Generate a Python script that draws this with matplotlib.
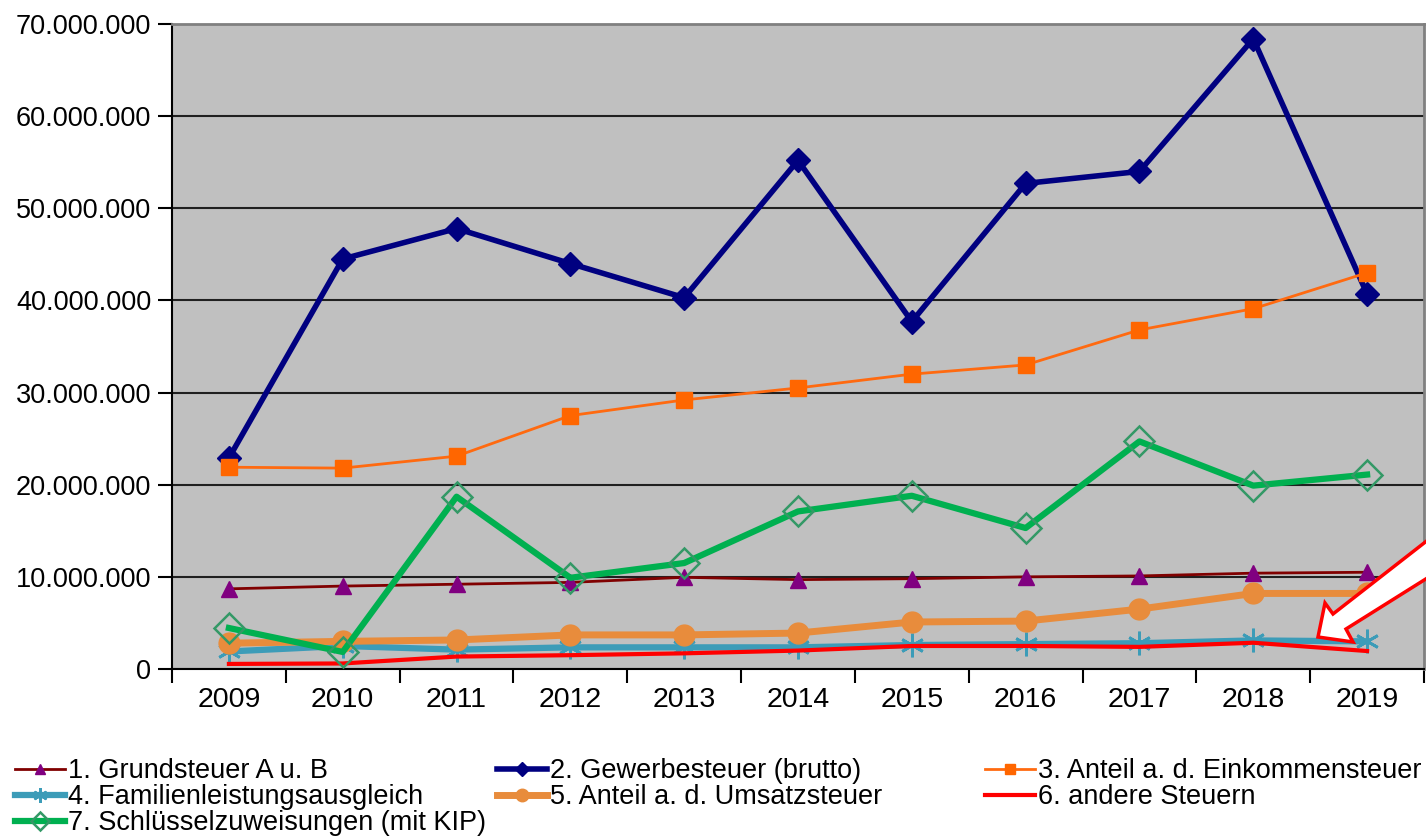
import matplotlib
matplotlib.use('Agg')
import matplotlib.pyplot as plt
from matplotlib.ticker import FuncFormatter, FixedLocator
from matplotlib.patches import Polygon

plt.rcParams['font.family'] = ['Liberation Sans', 'DejaVu Sans']

years = ['2009', '2010', '2011', '2012', '2013', '2014', '2015', '2016', '2017', '2018', '2019']

# Steuereinnahmen in Mio. EUR
grundsteuer = [8.7, 9.0, 9.2, 9.4, 9.95, 9.7, 9.8, 10.0, 10.1, 10.4, 10.5]
gewerbesteuer = [22.9, 44.5, 47.8, 44.0, 40.3, 55.2, 37.7, 52.7, 54.0, 68.4, 40.7]
einkommensteuer = [21.9, 21.8, 23.1, 27.5, 29.2, 30.5, 32.0, 33.0, 36.8, 39.1, 43.0]
familienausgleich = [1.9, 2.5, 2.1, 2.35, 2.35, 2.35, 2.6, 2.7, 2.8, 3.1, 3.0]
umsatzsteuer = [2.8, 3.0, 3.15, 3.7, 3.7, 3.9, 5.1, 5.2, 6.5, 8.2, 8.2]
andere_steuern = [0.55, 0.6, 1.35, 1.5, 1.7, 2.0, 2.5, 2.5, 2.4, 2.85, 1.95]
schluesselzuweisungen = [4.45, 1.85, 18.7, 9.9, 11.5, 17.1, 18.8, 15.3, 24.7, 19.9, 21.1]

labels = ['1. Grundsteuer A u. B', '2. Gewerbesteuer (brutto)', '3. Anteil a. d. Einkommensteuer',
          '4. Familienleistungsausgleich', '5. Anteil a. d. Umsatzsteuer', '6. andere Steuern',
          '7. Schlüsselzuweisungen (mit KIP)']

W, H = 1426, 838
fig = plt.figure(figsize=(W / 100, H / 100), dpi=100)
ax = fig.add_axes([172 / W, 1 - 669 / H, 1252 / W, 645 / H])
ax.set_facecolor('#C0C0C0')

x = range(len(years))
mio = lambda v: [i * 1e6 for i in v]

h = [None] * 7
h[0], = ax.plot(x, mio(grundsteuer), color='#800000', lw=2, marker='^', ms=11,
                mfc='#800080', mec='#800080', zorder=3)
h[1], = ax.plot(x, mio(gewerbesteuer), color='#000080', lw=4, marker='D', ms=12,
                mfc='#000080', mec='#000080', zorder=3)
h[2], = ax.plot(x, mio(einkommensteuer), color='#FF6A10', lw=2, marker='s', ms=11,
                mfc='#FF6600', mec='#FF6600', zorder=3)
h[3], = ax.plot(x, mio(familienausgleich), color='#3C9CB8', lw=4.5, marker=(6, 2, 0), ms=17,
                mew=2, mec='#3C9CB8', zorder=3)
h[4], = ax.plot(x, mio(umsatzsteuer), color='#E88C3C', lw=5, marker='o', ms=15,
                mfc='#E88C3C', mec='#E88C3C', zorder=3)
h[5], = ax.plot(x, mio(andere_steuern), color='#FF0000', lw=3, zorder=3)
h[6], = ax.plot(x, mio(schluesselzuweisungen), color='#00B050', lw=4.5, marker='D', ms=15,
                mfc='none', mec='#339966', mew=1.8, zorder=3)

ax.set_xlim(-0.5, len(years) - 0.5)
ax.set_ylim(0, 70e6)
ax.set_yticks([i * 10e6 for i in range(8)])
ax.yaxis.set_major_formatter(FuncFormatter(lambda v, p: f'{int(v):,}'.replace(',', '.')))
ax.grid(axis='y', color='#202020', lw=1.5)
ax.set_axisbelow(True)

ax.set_xticks(list(x))
ax.set_xticklabels(years)
ax.xaxis.set_minor_locator(FixedLocator([i - 0.5 for i in range(len(years) + 1)]))
ax.tick_params(axis='x', which='major', length=0, pad=13, labelsize=20.5)
ax.tick_params(axis='x', which='minor', length=10, width=1.5, direction='out')
ax.tick_params(axis='y', length=10, width=1.5, direction='out', labelsize=19.5, pad=5)

for s in ['left', 'bottom']:
    ax.spines[s].set_color('#000000')
    ax.spines[s].set_linewidth(1.5)
for s in ['top', 'right']:
    ax.spines[s].set_color('#808080')
    ax.spines[s].set_linewidth(2)

# Hinweispfeil rechts unten
pts = [(1318, 637), (1325, 603), (1333, 614), (1460, 515),
       (1480, 545), (1346, 629), (1353, 642)]
arrow = Polygon([(px / W, 1 - py / H) for px, py in pts], closed=True,
                transform=fig.transFigure, facecolor='white', edgecolor='#FF0000',
                lw=2.5, zorder=10)
fig.patches.append(arrow)

# Legende in drei Spalten
cols = [([0, 3, 6], 15), ([1, 4], 497), ([2, 5], 985)]
for idx, px in cols:
    fig.legend([h[i] for i in idx], [labels[i] for i in idx],
               loc='upper left', bbox_to_anchor=(px / W, 1 - 758 / H),
               frameon=False, fontsize=19.5, handlelength=1.85, handletextpad=0.1,
               labelspacing=0.0, borderpad=0, borderaxespad=0, markerscale=0.6)

fig.savefig('out.png', dpi=100)
